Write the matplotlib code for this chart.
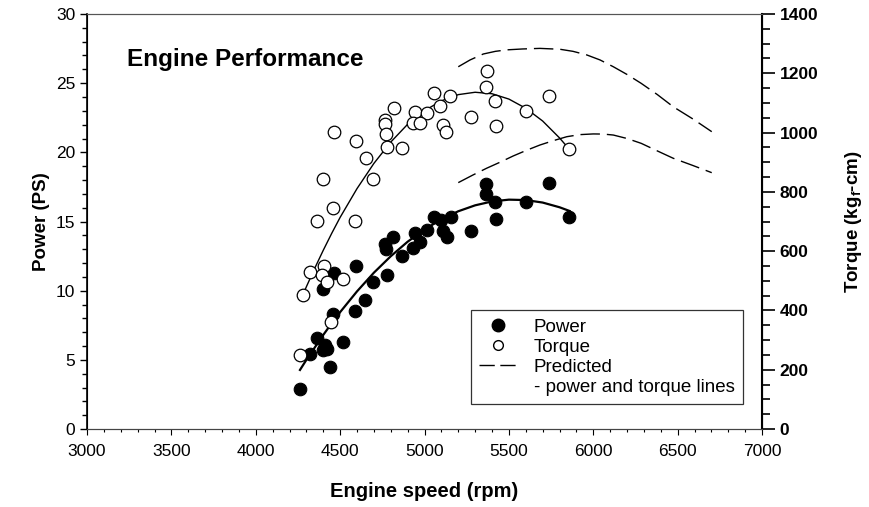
import matplotlib.pyplot as plt
from matplotlib.lines import Line2D
from matplotlib.ticker import MultipleLocator

plt.rcParams['font.family'] = ['Liberation Sans', 'DejaVu Sans']
plt.rcParams['mathtext.fontset'] = 'custom'
plt.rcParams['mathtext.rm'] = 'Liberation Sans'
plt.rcParams['mathtext.bf'] = 'Liberation Sans:bold'

# measured power (PS) vs engine speed (rpm)
power_rpm = [4262, 4321, 4361, 4400, 4410, 4420, 4440, 4460, 4519, 4588, 4647, 4693,
             4780, 4865, 4766, 4772, 4815, 4930, 4973, 4944, 5013, 5058, 5096, 5108,
             5132, 5155, 5273, 5365, 5365, 5418, 5422, 5600, 5740, 5858, 4400, 4464, 4592]
power_ps = [2.9, 5.4, 6.6, 5.7, 6.1, 5.8, 4.5, 8.3, 6.3, 8.5, 9.3, 10.6,
            11.1, 12.5, 13.4, 13.0, 13.9, 13.1, 13.5, 14.2, 14.4, 15.35, 15.1, 14.3,
            13.9, 15.3, 14.3, 17.7, 17.0, 16.4, 15.2, 16.4, 17.8, 15.3, 10.1, 11.3, 11.8]

# measured torque (kgf-cm) vs engine speed (rpm)
torque_rpm = [5056, 5151, 4819, 4944, 5017, 5092, 4766, 4766, 4770, 4930, 4973, 5108, 5126,
              4464, 4592, 4652, 4780, 4865, 4400, 4693, 4460, 4361, 4588, 4278, 4321, 4404,
              4391, 4420, 4515, 4444, 4262, 5369, 5365, 5418, 5740, 5602, 5276, 5424, 5858]
torque_kgcm = [1134, 1123, 1084, 1068, 1067, 1090, 1042, 1028, 995, 1031, 1031, 1027, 1001,
               1001, 973, 913, 950, 947, 842, 842, 747, 703, 701, 452, 531, 550,
               520, 497, 505, 362, 250, 1209, 1153, 1108, 1123, 1073, 1054, 1022, 945]

# fitted curves
power_fit_rpm = [4262, 4300, 4350, 4400, 4450, 4500, 4600, 4700, 4800, 4900, 5000, 5100,
                 5200, 5300, 5400, 5500, 5600, 5700, 5800, 5860]
power_fit_ps = [4.27, 5.0, 5.9, 6.8, 7.65, 8.45, 9.95, 11.3, 12.49, 13.54, 14.42, 15.16,
                15.74, 16.17, 16.45, 16.58, 16.55, 16.37, 16.03, 15.76]
torque_fit_rpm = [4266, 4300, 4350, 4400, 4450, 4500, 4600, 4700, 4800, 4900, 5000, 5100,
                  5200, 5300, 5400, 5500, 5600, 5700, 5800, 5862]
torque_fit_kgcm = [435, 480, 543, 603, 660, 714, 811, 896, 968, 1028, 1074, 1107,
                   1128, 1136, 1131, 1113, 1082, 1039, 982, 941]

# predicted lines
pred_torque_rpm = [5200, 5270, 5348, 5420, 5487, 5580, 5684, 5803, 5880, 5961, 6040, 6119,
                   6200, 6284, 6380, 6474, 6590, 6702]
pred_torque = [1222, 1245, 1265, 1274, 1279, 1282, 1284, 1281, 1274, 1262, 1245, 1222,
               1196, 1166, 1128, 1087, 1046, 1003]
pred_power_rpm = [5200, 5285, 5368, 5450, 5526, 5605, 5684, 5765, 5843, 5920, 6000, 6060,
                  6119, 6200, 6284, 6380, 6474, 6590, 6702]
pred_power = [17.81, 18.35, 18.85, 19.3, 19.74, 20.15, 20.53, 20.85, 21.13, 21.28, 21.33,
              21.32, 21.25, 21.0, 20.65, 20.1, 19.57, 19.05, 18.53]

fig = plt.figure(figsize=(8.7, 5.07), dpi=100)
ax = fig.add_axes([0.1, 0.1538, 0.7759, 0.8186])
ax2 = ax.twinx()

ax.scatter(power_rpm, power_ps, s=82, c='black', edgecolors='black', linewidths=0.8, zorder=3)
ax.plot(power_fit_rpm, power_fit_ps, color='black', lw=1.6)
ax.plot(pred_power_rpm, pred_power, color='black', lw=1.0, dashes=(14, 5))

ax2.scatter(torque_rpm, torque_kgcm, s=82, facecolors='white', edgecolors='black', linewidths=0.9, zorder=3)
ax2.plot(torque_fit_rpm, torque_fit_kgcm, color='black', lw=1.0)
ax2.plot(pred_torque_rpm, pred_torque, color='black', lw=1.0, dashes=(14, 5))

ax.set_xlim(3000, 7000)
ax.set_ylim(0, 30)
ax2.set_ylim(0, 1400)
ax.xaxis.set_major_locator(MultipleLocator(500))
ax.xaxis.set_minor_locator(MultipleLocator(100))
ax.yaxis.set_major_locator(MultipleLocator(5))
ax.yaxis.set_minor_locator(MultipleLocator(1))
ax2.yaxis.set_major_locator(MultipleLocator(200))
ax2.yaxis.set_minor_locator(MultipleLocator(50))

ax.tick_params(axis='x', which='major', length=4.5, width=0.8, labelsize=12.5, pad=6)
ax.tick_params(axis='x', which='minor', length=2.5, width=0.8)
ax.tick_params(axis='y', which='major', length=5, width=1, labelsize=12.5)
ax.tick_params(axis='y', which='minor', length=3.4, width=1)
ax2.tick_params(axis='y', which='major', length=9, width=1.2, labelsize=12.5)
ax2.tick_params(axis='y', which='minor', length=5.5, width=1.2)
for lbl in ax2.get_yticklabels():
    lbl.set_fontweight('bold')

for a in (ax, ax2):
    a.spines['top'].set_linewidth(0.8)
    a.spines['top'].set_color('#555555')
    a.spines['bottom'].set_linewidth(0.8)
    a.spines['bottom'].set_color('#444444')
ax.spines['left'].set_linewidth(1.2)
ax2.spines['right'].set_linewidth(1.5)

ax.set_xlabel('Engine speed (rpm)', fontsize=14.5, fontweight='bold')
ax.set_ylabel('Power (PS)', fontsize=13.5, fontweight='bold')
ax2.set_ylabel(r'Torque (kg$_\mathbf{f}$-cm)', fontsize=13.5, fontweight='bold')
ax.xaxis.set_label_coords(0.5, -0.128)
ax.yaxis.set_label_coords(-0.055, 0.5)
ax2.yaxis.set_label_coords(1.12, 0.5)

ax.text(3237, 26.7, 'Engine Performance', fontsize=17.5, fontweight='bold', ha='left', va='center')

handles = [Line2D([], [], marker='o', ls='none', color='black', markersize=9),
           Line2D([], [], marker='o', ls='none', markerfacecolor='white', markeredgecolor='black', markersize=7),
           Line2D([], [], color='black', lw=1.0, dashes=(11, 4)),
           Line2D([], [], ls='none')]
labels = ['Power', 'Torque', 'Predicted', '- power and torque lines']
leg = ax2.legend(handles, labels, loc='lower right', bbox_to_anchor=(0.972, 0.060),
                 fontsize=13.5, frameon=True, fancybox=False, edgecolor='black',
                 handlelength=2.0, handletextpad=0.9, labelspacing=0.15, borderpad=0.45,
                 borderaxespad=0)
leg.get_frame().set_linewidth(0.9)

fig.savefig('out.png', dpi=100)
